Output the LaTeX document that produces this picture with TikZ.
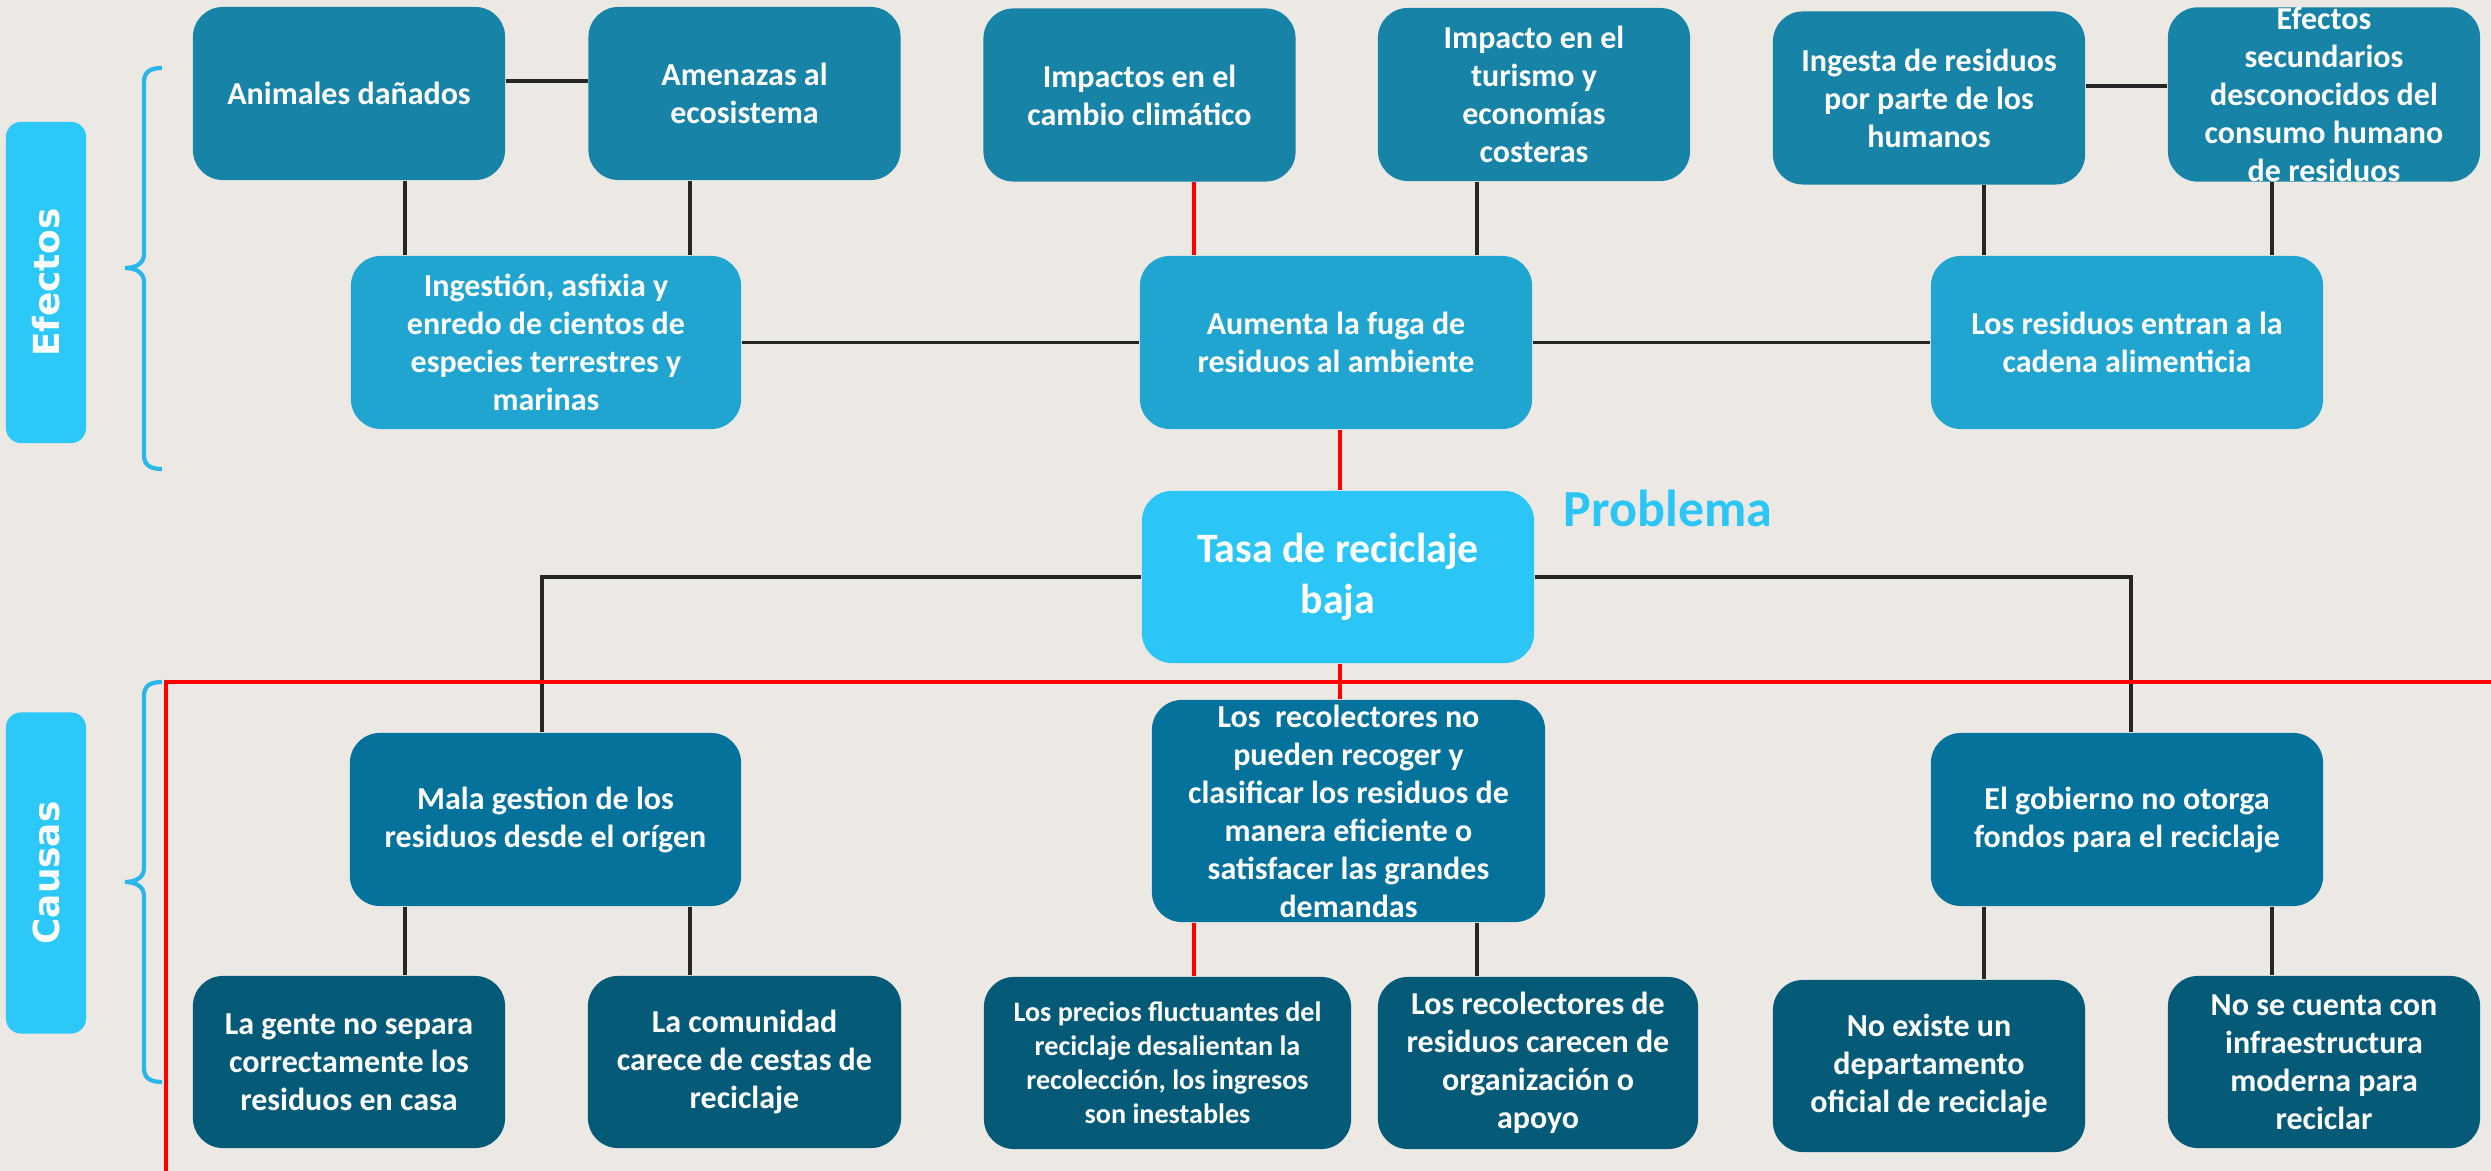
\documentclass[tikz,border=0pt]{standalone}
\usepackage{fontspec}
\setmainfont{Carlito}
\newfontfamily\lblfont{DejaVu Sans}
\definecolor{paper}{HTML}{ECE9E5}
\definecolor{cTop}{HTML}{1783A6}
\definecolor{cMid}{HTML}{1FA5CF}
\definecolor{cProb}{HTML}{2BC6F6}
\definecolor{cCause}{HTML}{04729A}
\definecolor{cLow}{HTML}{045A77}
\definecolor{cLbl}{HTML}{2CC8F8}
\definecolor{cBrace}{HTML}{29B7EA}
\definecolor{lineblk}{HTML}{262626}
\definecolor{lred}{HTML}{FF0000}
\begin{document}
\begin{tikzpicture}[x=0.01cm,y=-0.01cm,
  box/.style={rounded corners=0.3cm, text=white, align=center, inner sep=0pt,
    font=\bfseries\fontsize{9.1}{10.8}\selectfont, minimum height=1.73cm},
  boxTop/.style={box, fill=cTop, minimum width=3.12cm},
  boxMid/.style={box, fill=cMid, minimum width=3.92cm},
  boxProb/.style={box, fill=cProb, minimum width=3.92cm, minimum height=1.72cm,
    font=\bfseries\fontsize{11.9}{14.5}\selectfont},
  boxCause/.style={box, fill=cCause, minimum width=3.92cm},
  boxLow/.style={box, fill=cLow, minimum width=3.12cm, minimum height=1.72cm},
  lblbox/.style={rounded corners=0.15cm, fill=cLbl, text=white, rotate=90,
    minimum width=3.21cm, minimum height=0.80cm, inner sep=0pt,
    font=\lblfont\bfseries\fontsize{10.2}{12}\selectfont},
  blk/.style={draw=lineblk, line width=1.1pt},
  redl/.style={draw=lred, line width=1.4pt},
  bracel/.style={draw=cBrace, line width=1.2pt}
]
\fill[paper] (0,0) rectangle (2491,1171);
\useasboundingbox (0,0) rectangle (2491,1171);

% x / y guide coordinates
\coordinate (x405) at (405,0);
\coordinate (x690) at (690,0);
\coordinate (x1194) at (1194,0);
\coordinate (x1477) at (1477,0);
\coordinate (x1340) at (1340,0);
\coordinate (x1984) at (1984,0);
\coordinate (x2272) at (2272,0);
\coordinate (x542) at (542,0);
\coordinate (x2131) at (2131,0);
\coordinate (y81) at (0,81);
\coordinate (y86) at (0,86);
\coordinate (redtop) at (166,682);
\coordinate (redright) at (2491,682);
\coordinate (redbottom) at (166,1171);

% top row
\node[boxTop] (A1) at (349,93.5) {Animales dañados};
\node[boxTop] (A2) at (744.5,93.5) {Amenazas al\\ecosistema};
\node[boxTop] (A3) at (1139.5,95) {Impactos en el\\cambio climático};
\node[boxTop] (A4) at (1534,94.5) {Impacto en el\\turismo y\\economías\\costeras};
\node[boxTop] (A5) at (1929,98) {Ingesta de residuos\\por parte de los\\humanos};
\node[boxTop] (A6) at (2324,94.5) {Efectos\\secundarios\\desconocidos del\\consumo humano\\de residuos};

% second row
\node[boxMid, minimum width=3.90cm] (B1) at (546,342.5) {Ingestión, asfixia y\\enredo de cientos de\\especies terrestres y\\marinas};
\node[boxMid] (B2) at (1336,342.5) {Aumenta la fuga de\\residuos al ambiente};
\node[boxMid] (B3) at (2127,342.5) {Los residuos entran a la\\cadena alimenticia};

% problem
\node[boxProb] (T) at (1338,577) {Tasa de reciclaje\\baja};
\node[text=cProb, font=\bfseries\fontsize{14.8}{17}\selectfont, inner sep=0pt] (P) at (1668,508) {Problema};

% causes
\node[boxCause, minimum width=3.91cm] (C1) at (545.5,819.5) {Mala gestion de los\\residuos desde el orígen};
\node[boxCause, minimum width=3.93cm, minimum height=2.22cm] (C2) at (1348.5,811) {Los~ recolectores no\\pueden recoger y\\clasificar los residuos de\\manera eficiente o\\satisfacer las grandes\\demandas};
\node[boxCause] (C3) at (2127,819.5) {El gobierno no otorga\\fondos para el reciclaje};

% bottom row
\node[boxLow] (D1) at (349,1062) {La gente no separa\\correctamente los\\residuos en casa};
\node[boxLow, minimum width=3.13cm] (D2) at (744.5,1062) {La comunidad\\carece de cestas de\\reciclaje};
\node[boxLow, minimum width=3.67cm, font=\bfseries\fontsize{8.0}{9.7}\selectfont] (D3) at (1167.5,1063) {Los precios fluctuantes del\\reciclaje desalientan la\\recolección, los ingresos\\son inestables};
\node[boxLow, minimum width=3.20cm] (D4) at (1538,1063) {Los recolectores de\\residuos carecen de\\organización o\\apoyo};
\node[boxLow] (D5) at (1929,1066) {No existe un\\departamento\\oficial de reciclaje};
\node[boxLow] (D6) at (2324,1062) {No se cuenta con\\infraestructura\\moderna para\\reciclar};

% side labels
\node[lblbox] (LE) at (46,282.5) {Efectos};
\node[lblbox] (LC) at (46,873) {Causas};

% braces
\draw[bracel] (162,68) .. controls (150,68) and (144,72) .. (144,82) -- (144,254)
  .. controls (144,264) and (135,268) .. (125,268)
  .. controls (135,268) and (144,272) .. (144,282) -- (144,455)
  .. controls (144,465) and (150,469) .. (162,469);
\draw[bracel] (162,682) .. controls (150,682) and (144,686) .. (144,696) -- (144,868)
  .. controls (144,878) and (135,882) .. (125,882)
  .. controls (135,882) and (144,886) .. (144,896) -- (144,1068)
  .. controls (144,1078) and (150,1082) .. (162,1082);

% connectors top
\draw[blk] (A1.east |- y81) -- (A2.west |- y81);
\draw[blk] (A5.east |- y86) -- (A6.west |- y86);
\draw[blk] (A1.south -| x405) -- (B1.north -| x405);
\draw[blk] (A2.south -| x690) -- (B1.north -| x690);
\draw[redl] (A3.south -| x1194) -- (B2.north -| x1194);
\draw[blk] (A4.south -| x1477) -- (B2.north -| x1477);
\draw[blk] (A5.south -| x1984) -- (B3.north -| x1984);
\draw[blk] (A6.south -| x2272) -- (B3.north -| x2272);
\draw[blk] (B1.east) -- (B2.west);
\draw[blk] (B2.east) -- (B3.west);
\draw[redl] (B2.south -| x1340) -- (T.north -| x1340);

% connectors bottom
\draw[blk] (T.west) -| (C1.north -| x542);
\draw[blk] (T.east) -| (C3.north -| x2131);
\draw[blk] (C1.south -| x405) -- (D1.north -| x405);
\draw[blk] (C1.south -| x690) -- (D2.north -| x690);
\draw[redl] (C2.south -| x1194) -- (D3.north -| x1194);
\draw[blk] (C2.south -| x1477) -- (D4.north -| x1477);
\draw[blk] (C3.south -| x1984) -- (D5.north -| x1984);
\draw[blk] (C3.south -| x2272) -- (D6.north -| x2272);

% red frame lines
\draw[redl] (redbottom) -- (redtop) -- (redright);
\draw[redl] (T.south -| x1340) -- (C2.north -| x1340);
\end{tikzpicture}
\end{document}
